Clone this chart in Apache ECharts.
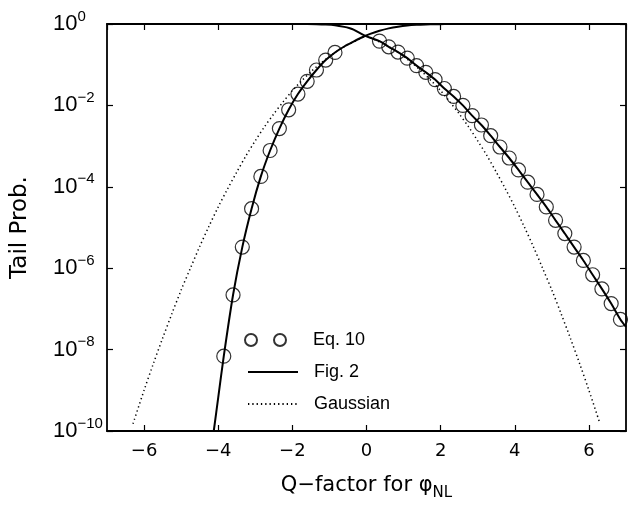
<!DOCTYPE html>
<html>
<head>
<meta charset="utf-8">
<script src="https://cdn.jsdelivr.net/npm/echarts@6/dist/echarts.min.js"></script>
<style>
  html, body { margin: 0; padding: 0; background: #fff; }
  #chart { width: 628px; height: 506px; }
</style>
</head>
<body>
<div id="chart"></div>
<script>
// Eq. 10 (circles)
const eqX = [-3.85, -3.6, -3.35, -3.1, -2.85, -2.6, -2.35, -2.1, -1.85, -1.6, -1.35, -1.1, -0.85,
  0.35, 0.6, 0.85, 1.1, 1.35, 1.6, 1.85, 2.1, 2.35, 2.6, 2.85, 3.1, 3.35, 3.6, 3.85, 4.1, 4.35,
  4.6, 4.85, 5.1, 5.35, 5.6, 5.85, 6.1, 6.35, 6.6, 6.85];
const eqY = [6.9e-9, 2.2e-7, 3.3e-6, 2.9e-5, 1.8e-4, 7.8e-4, 2.7e-3, 7.8e-3, 1.9e-2, 3.9e-2, 7.4e-2, 0.13, 0.20,
  0.38, 0.275, 0.204, 0.145, 0.095, 0.065, 0.043, 0.026, 0.0166, 0.010, 5.6e-3, 3.3e-3, 1.8e-3, 9.5e-4, 5.1e-4,
  2.6e-4, 1.3e-4, 6.5e-5, 3.2e-5, 1.5e-5, 7.1e-6, 3.3e-6, 1.55e-6, 6.9e-7, 3.1e-7, 1.35e-7, 5.5e-8];

// Fig. 2, rising curve
const riseX = [-4.12, -4.0, -3.85, -3.6, -3.35, -3.1, -2.85, -2.6, -2.35, -2.1, -1.85, -1.6, -1.35, -1.1,
  -0.85, -0.6, -0.35, -0.1, 0.1, 0.35, 0.6, 0.85, 1.1, 1.35, 1.6, 1.85, 2.1, 2.6, 3.0];
const riseY = [1e-10, 6.6e-10, 6.9e-9, 2.2e-7, 3.3e-6, 2.9e-5, 1.8e-4, 7.8e-4, 2.7e-3, 7.8e-3, 1.9e-2, 3.9e-2,
  7.4e-2, 0.13, 0.20, 0.28, 0.37, 0.48, 0.57, 0.68, 0.78, 0.86, 0.92, 0.955, 0.975, 0.987, 0.994, 0.999, 0.9998];

// Fig. 2, falling curve
const fallX = [-3.0, -2.0, -1.6, -1.35, -1.1, -0.85, -0.6, -0.45, -0.35, -0.1, 0.1, 0.35, 0.6, 0.85, 1.1,
  1.35, 1.6, 1.85, 2.1, 2.35, 2.6, 2.85, 3.1, 3.35, 3.6, 3.85, 4.1, 4.35, 4.6, 4.85, 5.1, 5.35, 5.6, 5.85,
  6.1, 6.35, 6.6, 6.85, 7.0];
const fallY = [0.99995, 0.9995, 0.997, 0.99, 0.97, 0.93, 0.85, 0.785, 0.73, 0.55, 0.46, 0.38, 0.275, 0.204,
  0.145, 0.095, 0.065, 0.043, 0.026, 0.0166, 0.010, 5.6e-3, 3.3e-3, 1.8e-3, 9.5e-4, 5.1e-4, 2.6e-4, 1.3e-4,
  6.5e-5, 3.2e-5, 1.5e-5, 7.1e-6, 3.3e-6, 1.55e-6, 6.9e-7, 3.1e-7, 1.35e-7, 5.5e-8, 3.6e-8];

// Gaussian (dotted)
const gaussX = [-6.3, -6.0, -5.75, -5.5, -5.25, -5.0, -4.75, -4.5, -4.25, -4.0, -3.75, -3.5, -3.25, -3.0,
  -2.75, -2.5, -2.25, -2.0, -1.75, -1.5, -1.25, -1.0, -0.75, -0.5, -0.25, 0, 0.25, 0.5, 0.75, 1.0, 1.25,
  1.5, 1.75, 2.0, 2.25, 2.5, 2.75, 3.0, 3.25, 3.5, 3.75, 4.0, 4.25, 4.5, 4.75, 5.0, 5.25, 5.5, 5.75, 6.0, 6.3];
const gaussY = [1.5e-10, 1.0e-9, 4.5e-9, 1.9e-8, 7.6e-8, 2.9e-7, 1.0e-6, 3.4e-6, 1.07e-5, 3.2e-5, 8.8e-5,
  2.3e-4, 5.8e-4, 1.35e-3, 3.0e-3, 6.2e-3, 1.22e-2, 2.3e-2, 4.0e-2, 6.7e-2, 0.106, 0.16, 0.23, 0.31, 0.40,
  0.5, 0.40, 0.31, 0.23, 0.16, 0.106, 6.7e-2, 4.0e-2, 2.3e-2, 1.22e-2, 6.2e-3, 3.0e-3, 1.35e-3, 5.8e-4,
  2.3e-4, 8.8e-5, 3.2e-5, 1.07e-5, 3.4e-6, 1.0e-6, 2.9e-7, 7.6e-8, 1.9e-8, 4.5e-9, 1.0e-9, 1.5e-10];

const pairs = (xs, ys) => xs.map((x, i) => [x, ys[i]]);

const font = 'Liberation Sans';
const wideFont = 'DejaVu Sans';
const black = '#000';

const chart = echarts.init(document.getElementById('chart'));

// 10^n labels with superscript
const logLabel = (v) => {
  const e = Math.round(Math.log10(v));
  return '{b|10}{s|' + (e < 0 ? '\u2212' + (-e) : e) + '}';
};

const frameLine = { show: true, onZero: false, lineStyle: { color: black, width: 1.8 } };
const inTick = { show: true, inside: true, length: 6, lineStyle: { color: black, width: 1.2 } };

const option = {
  animation: false,
  backgroundColor: '#fff',
  grid: { left: 107, right: 2, top: 24, bottom: 74 },
  legend: [
    {
      left: 239, top: 325,
      itemWidth: 41, itemHeight: 12,
      textStyle: { fontFamily: font, fontSize: 18, color: black, lineHeight: 20, padding: [0, 0, 0, 22] },
      data: [{
        name: 'Eq. 10',
        icon: 'path://M0,6a6,6 0 1,0 12,0a6,6 0 1,0 -12,0M29,6a6,6 0 1,0 12,0a6,6 0 1,0 -12,0'
      }]
    },
    {
      left: 242, top: 357, orient: 'vertical', itemGap: 12,
      itemWidth: 50, itemHeight: 12,
      itemStyle: { opacity: 0 },
      textStyle: { fontFamily: font, fontSize: 18, color: black, lineHeight: 20, padding: [0, 0, 0, 11] },
      data: ['Fig. 2', 'Gaussian']
    }
  ],
  xAxis: [
    {
      type: 'value', min: -7, max: 7, splitNumber: 7,
      axisLine: frameLine, axisTick: inTick, splitLine: { show: false },
      axisLabel: {
        showMinLabel: false, showMaxLabel: false, margin: 11,
        fontFamily: wideFont, fontSize: 18, color: black,
        formatter: (v) => (v < 0 ? '\u2212' + (-v) : '' + v)
      },
      name: 'Q\u2212factor for \u03c6{sub|NL}',
      nameLocation: 'middle', nameGap: 40,
      nameTextStyle: {
        fontFamily: wideFont, fontSize: 21, color: black, lineHeight: 30,
        rich: { sub: { fontFamily: wideFont, fontSize: 15, color: black, lineHeight: 12, verticalAlign: 'bottom' } }
      }
    },
    {
      type: 'value', position: 'top', min: -7, max: 7, splitNumber: 7,
      axisLine: frameLine, axisTick: inTick, axisLabel: { show: false }, splitLine: { show: false }
    }
  ],
  yAxis: [
    {
      type: 'log', logBase: 10, min: 1e-10, max: 1, interval: 2,
      axisLine: frameLine, axisTick: inTick, splitLine: { show: false }, minorTick: { show: false },
      axisLabel: {
        margin: 54, align: 'left', color: black,
        formatter: logLabel,
        rich: {
          b: { fontFamily: font, fontSize: 22, color: black, lineHeight: 30 },
          s: { fontFamily: font, fontSize: 15, color: black, lineHeight: 12, verticalAlign: 'top' }
        }
      },
      name: 'Tail Prob.', nameLocation: 'middle', nameGap: 75,
      nameTextStyle: { fontFamily: wideFont, fontSize: 23, color: black }
    },
    {
      type: 'log', logBase: 10, min: 1e-10, max: 1, interval: 2, position: 'right',
      axisLine: frameLine, axisTick: inTick, axisLabel: { show: false }, splitLine: { show: false }
    }
  ],
  series: [
    {
      name: 'Gaussian', type: 'line', data: pairs(gaussX, gaussY),
      smooth: 0.3, symbol: 'none', color: black,
      lineStyle: { color: black, width: 1.5, type: [1.3, 3] }
    },
    {
      name: 'Fig. 2', type: 'line', data: pairs(riseX, riseY),
      smooth: 0.3, symbol: 'none', color: black,
      lineStyle: { color: black, width: 2 }
    },
    {
      name: 'Fig. 2', type: 'line', data: pairs(fallX, fallY),
      smooth: 0.3, symbol: 'none', color: black,
      lineStyle: { color: black, width: 2 }
    },
    {
      name: 'Eq. 10', type: 'scatter', data: pairs(eqX, eqY),
      symbol: 'circle', symbolSize: 14,
      itemStyle: { color: 'rgba(0,0,0,0)', borderColor: black, borderWidth: 1.2 }
    }
  ]
};

chart.setOption(option);
window.addEventListener('resize', () => chart.resize());
</script>
</body>
</html>
